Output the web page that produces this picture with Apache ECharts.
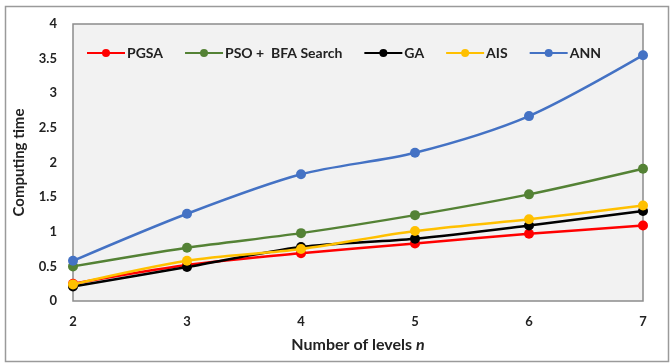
<!DOCTYPE html>
<html>
<head>
<meta charset="utf-8">
<script src="https://cdn.jsdelivr.net/npm/echarts@6/dist/echarts.min.js"></script>
<style>
  html, body { margin: 0; padding: 0; background: #fff; }
  #main { width: 671px; height: 364px; }
</style>
</head>
<body>
<div id="main"></div>
<script>
// levels n
var levels = ['2', '3', '4', '5', '6', '7'];
var seriesNames = ['PGSA', 'PSO +  BFA Search', 'GA', 'AIS', 'ANN'];
var colors = ['#ff0000', '#548235', '#000000', '#ffc000', '#4472c4'];
// computing time
var pgsa = [0.25, 0.52, 0.69, 0.83, 0.97, 1.09];
var psoBfa = [0.50, 0.77, 0.98, 1.24, 1.54, 1.91];
var ga = [0.21, 0.49, 0.78, 0.90, 1.09, 1.30];
var ais = [0.24, 0.58, 0.75, 1.01, 1.18, 1.38];
var ann = [0.58, 1.26, 1.83, 2.14, 2.67, 3.55];
var yTicks = [0, 0.5, 1, 1.5, 2, 2.5, 3, 3.5, 4];

var allData = [pgsa, psoBfa, ga, ais, ann];
var font = 'Lato';

var chart = echarts.init(document.getElementById('main'));

var series = allData.map(function (d, i) {
  return {
    name: seriesNames[i],
    type: 'line',
    data: d,
    smooth: 0.3,
    symbol: 'circle',
    symbolSize: 10,
    lineStyle: { width: 2.5, color: colors[i] },
    itemStyle: { color: colors[i] },
    z: i === 3 ? 5 : 3
  };
});

chart.setOption({
  animation: false,
  backgroundColor: '#fff',
  graphic: [{
    type: 'rect',
    left: 3, top: 4,
    shape: { width: 663, height: 355 },
    style: { fill: 'none', stroke: '#9a9a9a', lineWidth: 1.5 }
  }],
  grid: {
    left: 73, right: 28, top: 24, bottom: 63,
    show: true,
    backgroundColor: '#f2f2f2',
    borderColor: '#8c8c8c',
    borderWidth: 1.5
  },
  legend: {
    data: seriesNames,
    left: 81, top: 41,
    itemWidth: 38, itemHeight: 10,
    itemGap: 21,
    textStyle: { fontFamily: font, fontWeight: 'bold', fontSize: 14, color: '#222', padding: [0, 0, 0, -3] }
  },
  xAxis: {
    type: 'category',
    data: levels,
    boundaryGap: false,
    axisLine: { show: false },
    axisTick: { show: false },
    splitLine: { show: false },
    axisLabel: { margin: 14, fontFamily: font, fontWeight: 'bold', fontSize: 13, color: '#222' },
    name: 'Number of levels {i|n}',
    nameLocation: 'middle',
    nameGap: 36,
    nameTextStyle: {
      fontFamily: font, fontWeight: 'bold', fontSize: 16, color: '#222',
      rich: { i: { fontFamily: font, fontWeight: 'bold', fontStyle: 'italic', fontSize: 16, color: '#222' } }
    }
  },
  yAxis: {
    type: 'value',
    min: yTicks[0],
    max: yTicks[yTicks.length - 1],
    interval: 0.5,
    axisLine: { show: false },
    axisTick: { show: false },
    splitLine: { show: false },
    axisLabel: { margin: 16, fontFamily: font, fontWeight: 'bold', fontSize: 13, color: '#222' },
    name: 'Computing time',
    nameLocation: 'middle',
    nameGap: 46,
    nameTextStyle: { fontFamily: font, fontWeight: 'bold', fontSize: 15, color: '#222' }
  },
  series: series
});
</script>
</body>
</html>
